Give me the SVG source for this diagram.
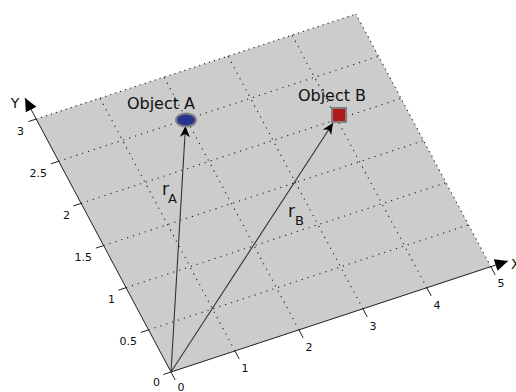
<svg xmlns="http://www.w3.org/2000/svg" width="516" height="392" viewBox="0 0 516 392">
<defs>
<style>
.plane{fill:#cccccc;stroke:none}
.axis{stroke:#222;stroke-width:1;fill:none}
.edge{stroke:#222;stroke-width:1.1;stroke-dasharray:1.2 4;fill:none}
.grid{stroke:#222;stroke-width:1.1;stroke-dasharray:1.2 5;fill:none}
.tick{stroke:#222;stroke-width:1}
.tl{font-family:"DejaVu Sans",sans-serif;font-size:11px;fill:#111}
.lbl{font-family:"DejaVu Sans",sans-serif;font-size:16px;fill:#111;text-anchor:middle}
.vec{stroke:#333;stroke-width:1.1;fill:none}
.r{font-family:"DejaVu Sans",sans-serif;font-size:17px;fill:#111}
.sub{font-family:"DejaVu Sans",sans-serif;font-size:13px;fill:#111}
</style>
<marker id="barb" markerUnits="userSpaceOnUse" markerWidth="14" markerHeight="12" refX="12" refY="6" orient="auto">
<path d="M12,6 L1,1 L4,6 L1,11 Z" fill="#000"/>
</marker>
<marker id="tri" markerUnits="userSpaceOnUse" markerWidth="16" markerHeight="14" refX="14" refY="7" orient="auto">
<path d="M14,7 L1,1 L1,13 Z" fill="#000"/>
</marker>
</defs>
<g id="plane">
<polygon class="plane" points="171,372 491,267 356,14.1 36,119.1"/>
</g>
<g id="grid">
<line class="grid" x1="148.5" y1="329.9" x2="468.5" y2="224.9"/>
<line class="grid" x1="126" y1="287.7" x2="446" y2="182.7"/>
<line class="grid" x1="103.5" y1="245.6" x2="423.5" y2="140.6"/>
<line class="grid" x1="81" y1="203.4" x2="401" y2="98.4"/>
<line class="grid" x1="58.5" y1="161.3" x2="378.5" y2="56.3"/>
<line class="grid" x1="235" y1="351" x2="100" y2="98.1"/>
<line class="grid" x1="299" y1="330" x2="164" y2="77.1"/>
<line class="grid" x1="363" y1="309" x2="228" y2="56.1"/>
<line class="grid" x1="427" y1="288" x2="292" y2="35.1"/>
<line class="edge" x1="36" y1="119.1" x2="356" y2="14.1"/>
<line class="edge" x1="491" y1="267" x2="356" y2="14.1"/>
</g>
<g id="x-axis">
<line class="axis" x1="171" y1="372" x2="508" y2="261" marker-end="url(#tri)"/>
<line class="tick" x1="171" y1="372" x2="175.2" y2="379.9"/>
<line class="tick" x1="235" y1="351" x2="239.2" y2="358.9"/>
<line class="tick" x1="299" y1="330" x2="303.2" y2="337.9"/>
<line class="tick" x1="363" y1="309" x2="367.2" y2="316.9"/>
<line class="tick" x1="427" y1="288" x2="431.2" y2="295.9"/>
<line class="tick" x1="491" y1="267" x2="495.2" y2="274.9"/>
<text class="tl" x="181" y="391" text-anchor="middle">0</text>
<text class="tl" x="245" y="372" text-anchor="middle">1</text>
<text class="tl" x="309" y="351" text-anchor="middle">2</text>
<text class="tl" x="373" y="330" text-anchor="middle">3</text>
<text class="tl" x="437" y="309" text-anchor="middle">4</text>
<text class="tl" x="501" y="287" text-anchor="middle">5</text>
<text class="tl" x="511" y="269" style="font-size:14px">X</text>
</g>
<g id="y-axis">
<line class="axis" x1="171" y1="372" x2="25" y2="98" marker-end="url(#tri)"/>
<line class="tick" x1="171" y1="372" x2="163.4" y2="374.5"/>
<line class="tick" x1="148.5" y1="329.9" x2="140.9" y2="332.4"/>
<line class="tick" x1="126" y1="287.7" x2="118.4" y2="290.2"/>
<line class="tick" x1="103.5" y1="245.6" x2="95.9" y2="248.1"/>
<line class="tick" x1="81" y1="203.4" x2="73.4" y2="205.9"/>
<line class="tick" x1="58.5" y1="161.3" x2="50.9" y2="163.8"/>
<line class="tick" x1="36" y1="119.1" x2="28.4" y2="121.6"/>
<text class="tl" x="160" y="386" text-anchor="end">0</text>
<text class="tl" x="137" y="345" text-anchor="end">0.5</text>
<text class="tl" x="115" y="303" text-anchor="end">1</text>
<text class="tl" x="92" y="261" text-anchor="end">1.5</text>
<text class="tl" x="70" y="219" text-anchor="end">2</text>
<text class="tl" x="47" y="177" text-anchor="end">2.5</text>
<text class="tl" x="24" y="135" text-anchor="end">3</text>
<text class="tl" x="15" y="108" text-anchor="middle" style="font-size:14px">Y</text>
</g>
<g id="connectors">
<line id="rA" class="vec" x1="171" y1="372" x2="185.5" y2="126" marker-end="url(#barb)"/>
<line id="rB" class="vec" x1="171" y1="372" x2="333" y2="123" marker-end="url(#barb)"/>
<text class="r" x="162" y="195">r</text><text class="sub" x="168" y="203">A</text>
<text class="r" x="288" y="217">r</text><text class="sub" x="295" y="225">B</text>
</g>
<g id="objectA">
<ellipse cx="186" cy="120" rx="10" ry="6.5" fill="#27338f" stroke="#808080" stroke-width="2"/>
<text class="lbl" x="161" y="109">Object A</text>
</g>
<g id="objectB">
<rect x="332" y="108" width="14" height="14" fill="#b01a1a" stroke="#808080" stroke-width="2"/>
<text class="lbl" x="332" y="101">Object B</text>
</g>
</svg>
